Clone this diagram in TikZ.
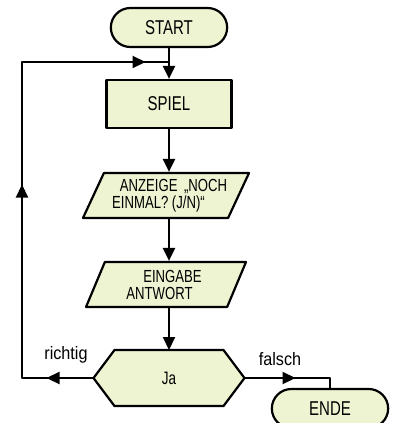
\documentclass[tikz,border=0pt]{standalone}
\usepackage{fontspec}
\setmainfont{Liberation Sans}[FakeStretch=0.75]
\newfontfamily\labelfont{Liberation Sans}[FakeStretch=0.9]
\usetikzlibrary{shapes.geometric,shapes.misc,arrows.meta,decorations.markings,backgrounds}
\definecolor{boxfill}{RGB}{238,243,209}
\tikzset{
  midarrow/.style={postaction={decorate,decoration={markings,
    mark=at position #1 with {\arrow{>}}}}},
}
\begin{document}
\begin{tikzpicture}[x=1pt, y=1pt, line width=2.2pt, line join=round,
  >={Triangle[length=13pt,width=12pt]},
  term/.style={draw, fill=boxfill, rounded rectangle, minimum width=123pt,
    minimum height=39pt, font=\fontsize{20}{22}\selectfont},
  proc/.style={draw, fill=boxfill, minimum width=125pt, minimum height=48pt,
    font=\fontsize{20}{22}\selectfont},
  io/.style={draw, fill=boxfill, trapezium, trapezium left angle=59,
    trapezium right angle=121, trapezium stretches body, minimum width=160pt,
    minimum height=45pt, inner sep=1pt, align=center,
    font=\fontsize{17.5}{17}\selectfont},
  test/.style={minimum width=151pt, minimum height=56pt, outer sep=0pt,
    font=\fontsize{18}{20}\selectfont},
  tag/.style={font=\labelfont\fontsize{18}{20}\selectfont}]
\useasboundingbox (0,0) rectangle (394,-423);
\clip (0,0) rectangle (394,-423);
% boxes
\node[term] (start) at (169,-27.5) {START};
\node[proc] (spiel) at (169,-104) {SPIEL};
\node[io] (anzeige) at (166,-195.5)
  {\hspace*{15pt}ANZEIGE \,„NOCH\\EINMAL? (J/N)“\hspace*{15pt}};
\node[io] (eingabe) at (166,-284.5)
  {\hspace*{13pt}EINGABE\\ANTWORT\hspace*{13pt}};
\node[test] (ja) at (169,-378) {Ja};
\begin{scope}[on background layer]
\draw[line width=2.2pt, fill=boxfill] (ja.west) -- ([xshift=21pt]ja.north west)
  -- ([xshift=-21pt]ja.north east) -- (ja.east)
  -- ([xshift=-21pt]ja.south east) -- ([xshift=21pt]ja.south west) -- cycle;
\end{scope}
\node[term] (ende) at (330,-408.5) {ENDE};
% loop corners
\coordinate (lb) at (22,-378);
\coordinate (lt) at (22,-62);
\coordinate (jn) at (start.south |- lt);
% main flow
\draw[->] (start.south) -- (spiel.north);
\draw[->] (spiel.south) -- (spiel.south |- anzeige.north);
\draw[->] (spiel.south |- anzeige.south) -- (spiel.south |- eingabe.north);
\draw[->] (spiel.south |- eingabe.south) -- (ja.north);
% branches
\draw[midarrow=47pt, midarrow=265pt, midarrow=511pt]
  (ja.west) -- (lb) -- (lt) -- (jn);
\draw[midarrow=51pt] (ja.east) -| (ende.north);
\node[tag] (richtig) at (66,-355) {richtig};
\node[tag] (falsch) at (280,-359) {falsch};
\end{tikzpicture}
\end{document}
